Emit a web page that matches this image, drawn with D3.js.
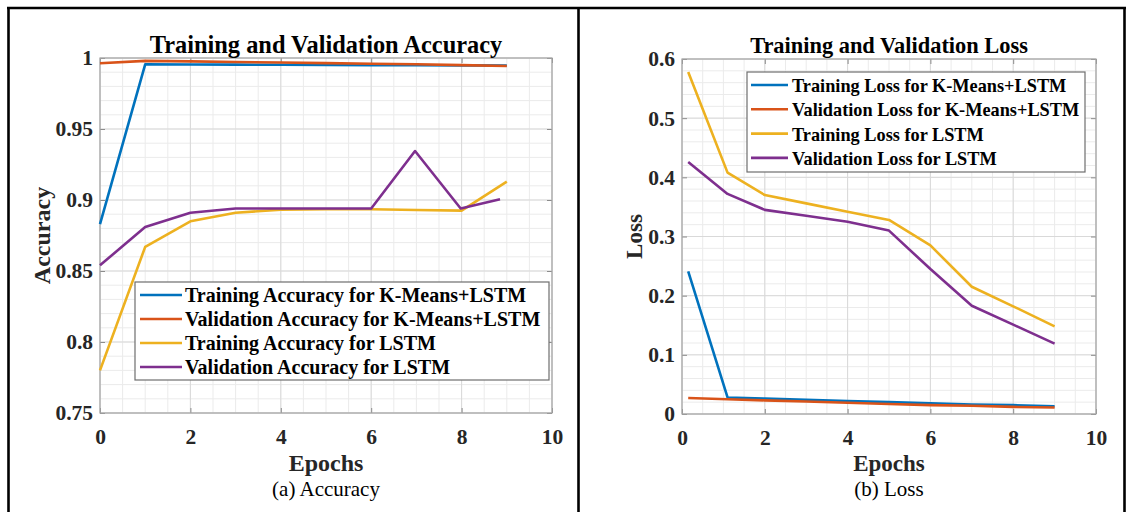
<!DOCTYPE html>
<html>
<head>
<meta charset="utf-8">
<script src="https://cdn.jsdelivr.net/npm/d3@7"></script>
<style>
  body { margin: 0; background: #fff; }
  svg { display: block; }
  text { font-family: "Liberation Serif", "Times New Roman", serif; }
</style>
</head>
<body>
<svg id="fig" width="1133" height="512"></svg>
<script>
// ---- Accuracy panel data ----
const accEpochs        = [0, 1, 2, 3, 4, 5, 6, 7, 8, 9];
const accEpochsValLstm = [0, 1, 2, 3, 4, 5, 6, 6.97, 7.98, 8.85];
const trainAccKM   = [0.883, 0.9955, 0.9954, 0.9953, 0.9952, 0.9951, 0.9950, 0.9949, 0.9948, 0.9947];
const valAccKM     = [0.9963, 0.9980, 0.9976, 0.9972, 0.9968, 0.9964, 0.9960, 0.9956, 0.9950, 0.9944];
const trainAccLstm = [0.780, 0.867, 0.885, 0.891, 0.8932, 0.8935, 0.8935, 0.8930, 0.8925, 0.913];
const valAccLstm   = [0.854, 0.881, 0.891, 0.894, 0.894, 0.894, 0.894, 0.9345, 0.894, 0.9005];
const accXTicks = [0, 2, 4, 6, 8, 10];
const accYTicks = [0.75, 0.8, 0.85, 0.9, 0.95, 1];
const accYTickLabels = ["0.75", "0.8", "0.85", "0.9", "0.95", "1"];
const accLegend = [
  "Training Accuracy for K-Means+LSTM",
  "Validation Accuracy for K-Means+LSTM",
  "Training Accuracy for LSTM",
  "Validation Accuracy for LSTM"
];

// ---- Loss panel data ----
const lossEpochs    = [0.15, 1.1, 2, 3, 4, 5, 6, 7, 8, 9];
const trainLossKM   = [0.241, 0.028, 0.026, 0.024, 0.022, 0.020, 0.018, 0.016, 0.015, 0.013];
const valLossKM     = [0.027, 0.025, 0.023, 0.021, 0.019, 0.017, 0.015, 0.014, 0.012, 0.011];
const trainLossLstm = [0.578, 0.408, 0.370, 0.356, 0.342, 0.328, 0.285, 0.215, 0.182, 0.148];
const valLossLstm   = [0.426, 0.372, 0.345, 0.335, 0.325, 0.310, 0.245, 0.183, 0.151, 0.119];
const lossXTicks = [0, 2, 4, 6, 8, 10];
const lossYTicks = [0, 0.1, 0.2, 0.3, 0.4, 0.5, 0.6];
const lossYTickLabels = ["0", "0.1", "0.2", "0.3", "0.4", "0.5", "0.6"];
const lossLegend = [
  "Training Loss for K-Means+LSTM",
  "Validation Loss for K-Means+LSTM",
  "Training Loss for LSTM",
  "Validation Loss for LSTM"
];

// MATLAB default line colours
const seriesColors = ["#0072BD", "#D95319", "#EDB120", "#7E2F8E"];

const svg = d3.select("#fig");

// Outer table frame
const frame = svg.append("g").attr("stroke", "#000").attr("stroke-width", 2.6);
frame.append("line").attr("x1", 7).attr("x2", 1126).attr("y1", 8).attr("y2", 8);
frame.append("line").attr("x1", 8.5).attr("x2", 8.5).attr("y1", 7).attr("y2", 512);
frame.append("line").attr("x1", 578.5).attr("x2", 578.5).attr("y1", 7).attr("y2", 512);
frame.append("line").attr("x1", 1124.5).attr("x2", 1124.5).attr("y1", 7).attr("y2", 512);

function drawPanel(cfg) {
  const g = svg.append("g");
  const x = d3.scaleLinear().domain(cfg.xDomain).range([cfg.left, cfg.right]);
  const y = d3.scaleLinear().domain(cfg.yDomain).range([cfg.bottom, cfg.top]);

  // minor grid
  const minorX = d3.range(cfg.xDomain[0], cfg.xDomain[1] + 1e-9, cfg.xMinor);
  const minorY = d3.range(cfg.yDomain[0], cfg.yDomain[1] + 1e-9, cfg.yMinor);
  g.append("g").selectAll("line").data(minorX).join("line")
    .attr("x1", d => x(d)).attr("x2", d => x(d))
    .attr("y1", cfg.top).attr("y2", cfg.bottom)
    .attr("stroke", "#ebebeb").attr("stroke-width", 1);
  g.append("g").selectAll("line").data(minorY).join("line")
    .attr("x1", cfg.left).attr("x2", cfg.right)
    .attr("y1", d => y(d)).attr("y2", d => y(d))
    .attr("stroke", "#ebebeb").attr("stroke-width", 1);
  // major grid
  g.append("g").selectAll("line").data(cfg.xTicks).join("line")
    .attr("x1", d => x(d)).attr("x2", d => x(d))
    .attr("y1", cfg.top).attr("y2", cfg.bottom)
    .attr("stroke", "#d9d9d9").attr("stroke-width", 1);
  g.append("g").selectAll("line").data(cfg.yTicks).join("line")
    .attr("x1", cfg.left).attr("x2", cfg.right)
    .attr("y1", d => y(d)).attr("y2", d => y(d))
    .attr("stroke", "#d9d9d9").attr("stroke-width", 1);

  // axes with inward ticks on all four sides
  const styleAxis = sel => {
    sel.select(".domain").remove();
    sel.selectAll(".tick line").attr("stroke", "#8c8c8c");
    sel.selectAll(".tick text")
      .attr("fill", "#262626")
      .style("font-family", "'Liberation Serif','Times New Roman',serif")
      .style("font-weight", "bold")
      .style("font-size", cfg.tickFont + "px");
  };
  g.append("g").attr("transform", `translate(0,${cfg.bottom})`)
    .call(d3.axisBottom(x).tickValues(cfg.xTicks).tickFormat(d3.format("d"))
      .tickSize(-5).tickPadding(16)).call(styleAxis);
  g.append("g").attr("transform", `translate(0,${cfg.top})`)
    .call(d3.axisTop(x).tickValues(cfg.xTicks).tickFormat("").tickSize(-5)).call(styleAxis);
  g.append("g").attr("transform", `translate(${cfg.left},0)`)
    .call(d3.axisLeft(y).tickValues(cfg.yTicks).tickFormat((d, i) => cfg.yTickLabels[i])
      .tickSize(-5).tickPadding(7)).call(styleAxis);
  g.append("g").attr("transform", `translate(${cfg.right},0)`)
    .call(d3.axisRight(y).tickValues(cfg.yTicks).tickFormat("").tickSize(-5)).call(styleAxis);

  // plot box
  g.append("rect")
    .attr("x", cfg.left).attr("y", cfg.top)
    .attr("width", cfg.right - cfg.left).attr("height", cfg.bottom - cfg.top)
    .attr("fill", "none").attr("stroke", "#a6a6a6").attr("stroke-width", 1.2);

  // series lines
  const line = d3.line().x(d => x(d[0])).y(d => y(d[1]));
  cfg.series.forEach((s, i) => {
    const pts = s.values.map((v, j) => [s.epochs[j], v]);
    g.append("path").datum(pts)
      .attr("d", line)
      .attr("fill", "none")
      .attr("stroke", seriesColors[i])
      .attr("stroke-width", 2.6)
      .attr("stroke-linejoin", "round");
  });

  // title
  const cx = (cfg.left + cfg.right) / 2;
  g.append("text").attr("x", cx).attr("y", 53)
    .attr("text-anchor", "middle").attr("font-weight", "bold")
    .attr("font-size", cfg.titleFont).attr("fill", "#000")
    .text(cfg.title);

  // axis labels
  g.append("text").attr("x", cx).attr("y", 471)
    .attr("text-anchor", "middle").attr("font-weight", "bold")
    .attr("font-size", cfg.labelFont).attr("fill", "#262626")
    .text("Epochs");
  g.append("text")
    .attr("transform", `translate(${cfg.yLabelX},${(cfg.top + cfg.bottom) / 2}) rotate(-90)`)
    .attr("text-anchor", "middle").attr("font-weight", "bold")
    .attr("font-size", cfg.labelFont).attr("fill", "#262626")
    .text(cfg.yLabel);

  // caption
  g.append("text").attr("x", cx).attr("y", 496)
    .attr("text-anchor", "middle")
    .attr("font-size", 21).attr("fill", "#000")
    .text(cfg.caption);

  // legend
  const L = cfg.legend;
  const lg = g.append("g");
  lg.append("rect").attr("x", L.x).attr("y", L.y)
    .attr("width", L.w).attr("height", L.h)
    .attr("fill", "#fff").attr("stroke", "#6e6e6e").attr("stroke-width", 1.2);
  cfg.series.forEach((s, i) => {
    const ry = L.firstRow + i * L.rowGap;
    lg.append("line")
      .attr("x1", L.x + L.lineStart).attr("x2", L.x + L.lineEnd)
      .attr("y1", ry).attr("y2", ry)
      .attr("stroke", seriesColors[i]).attr("stroke-width", 2.6);
    lg.append("text")
      .attr("x", L.x + L.textStart).attr("y", ry + 7)
      .attr("font-weight", "bold").attr("font-size", L.font)
      .attr("fill", "#000")
      .text(s.name);
  });
}

drawPanel({
  left: 100, right: 552, top: 58, bottom: 413,
  xDomain: [0, 10], yDomain: [0.75, 1],
  xMinor: 0.5, yMinor: 0.01,
  xTicks: accXTicks, yTicks: accYTicks, yTickLabels: accYTickLabels,
  tickFont: 21.5, titleFont: 24.4, labelFont: 24,
  title: "Training and Validation Accuracy",
  yLabel: "Accuracy", yLabelX: 50,
  caption: "(a) Accuracy",
  series: [
    { name: accLegend[0], epochs: accEpochs, values: trainAccKM },
    { name: accLegend[1], epochs: accEpochs, values: valAccKM },
    { name: accLegend[2], epochs: accEpochs, values: trainAccLstm },
    { name: accLegend[3], epochs: accEpochsValLstm, values: valAccLstm }
  ],
  legend: { x: 135, y: 282, w: 414, h: 98, firstRow: 295, rowGap: 24,
            lineStart: 5, lineEnd: 47, textStart: 50, font: 20 }
});

drawPanel({
  left: 682, right: 1096, top: 59, bottom: 414,
  xDomain: [0, 10], yDomain: [0, 0.6],
  xMinor: 0.5, yMinor: 0.02,
  xTicks: lossXTicks, yTicks: lossYTicks, yTickLabels: lossYTickLabels,
  tickFont: 21.5, titleFont: 22.4, labelFont: 23,
  title: "Training and Validation Loss",
  yLabel: "Loss", yLabelX: 642,
  caption: "(b) Loss",
  series: [
    { name: lossLegend[0], epochs: lossEpochs, values: trainLossKM },
    { name: lossLegend[1], epochs: lossEpochs, values: valLossKM },
    { name: lossLegend[2], epochs: lossEpochs, values: trainLossLstm },
    { name: lossLegend[3], epochs: lossEpochs, values: valLossLstm }
  ],
  legend: { x: 747, y: 72, w: 338, h: 100, firstRow: 85, rowGap: 24.3,
            lineStart: 4, lineEnd: 41, textStart: 45, font: 18.3 }
});
</script>
</body>
</html>
